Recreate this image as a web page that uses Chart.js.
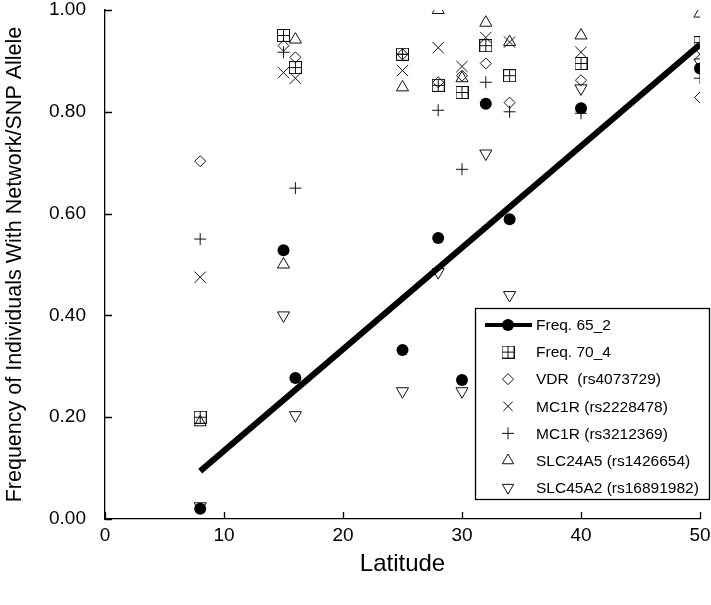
<!DOCTYPE html>
<html>
<head>
<meta charset="utf-8">
<script src="https://cdn.jsdelivr.net/npm/chart.js@4/dist/chart.umd.min.js"></script>
<style>
  html, body { margin: 0; padding: 0; background: #fff; }
  #wrap { width: 711px; height: 605px; }
</style>
</head>
<body>
<div id="wrap"><canvas id="c" width="711" height="605"></canvas></div>
<script>
// ---- data ----
const latitudes   = [8, 15, 16, 25, 28, 30, 32, 34, 40, 50];
const freq65_2    = [0.020, 0.528, 0.277, 0.332, 0.552, 0.273, 0.816, 0.589, 0.807, 0.885];
const freq70_4    = [0.200, 0.950, 0.887, 0.913, 0.852, 0.838, 0.930, 0.871, 0.895, 0.936];
const vdr         = [0.703, 0.930, 0.907, 0.913, 0.858, 0.871, 0.895, 0.818, 0.862, 0.828];
const mc1r2228478 = [0.475, 0.877, 0.866, 0.881, 0.926, 0.889, 0.946, 0.937, 0.917, 0.913];
const mc1r3212369 = [0.550, 0.917, 0.650, 0.913, 0.803, 0.687, 0.858, 0.800, 0.797, 0.866];
const slc24a5     = [0.190, 0.500, 0.942, 0.848, 1.000, 0.866, 0.975, 0.937, 0.950, 0.993];
const slc45a2     = [0.025, 0.400, 0.204, 0.251, 0.485, 0.251, 0.718, 0.440, 0.846, 0.897];
const trendLatitudes = [8, 50];
const trendValues    = [0.094, 0.932];
const xTickValues = [0, 10, 20, 30, 40, 50];
const yTickValues = [0, 0.2, 0.4, 0.6, 0.8, 1.0];
const seriesLabels = ['Freq. 65_2', 'Freq. 70_4', 'VDR  (rs4073729)', 'MC1R (rs2228478)',
                      'MC1R (rs3212369)', 'SLC24A5 (rs1426654)', 'SLC45A2 (rs16891982)'];
const xTitle = 'Latitude';
const yTitle = 'Frequency of Individuals With Network/SNP Allele';

// ---- helpers ----
const FONT = '"Liberation Sans", Arial, Helvetica, sans-serif';
const INK = '#111';
function pts(xs, ys) { return xs.map((x, i) => ({ x: x, y: ys[i] })); }

// square with a cross (⊞) marker
const boxCross = document.createElement('canvas');
boxCross.width = 13; boxCross.height = 13;
(function () {
  const g = boxCross.getContext('2d');
  g.strokeStyle = INK; g.lineWidth = 1;
  g.strokeRect(0.5, 0.5, 12, 12);
  g.beginPath();
  g.moveTo(6.5, 0.5); g.lineTo(6.5, 12.5);
  g.moveTo(0.5, 6.5); g.lineTo(12.5, 6.5);
  g.stroke();
})();

function hollow(label, values, style, radius, rotation) {
  return {
    type: 'scatter', label: label, data: pts(latitudes, values),
    pointStyle: style, pointRadius: radius, pointHoverRadius: radius,
    rotation: rotation || 0, borderWidth: 1,
    borderColor: INK, backgroundColor: 'rgba(0,0,0,0)', order: 2
  };
}

const datasets = [
  {
    type: 'line', label: 'trend', data: pts(trendLatitudes, trendValues),
    borderColor: '#000', borderWidth: 6, pointRadius: 0, showLine: true,
    fill: false, order: 1, borderCapStyle: 'butt'
  },
  {
    type: 'scatter', label: seriesLabels[0], data: pts(latitudes, freq65_2),
    pointStyle: 'circle', pointRadius: 6, pointHoverRadius: 6,
    backgroundColor: '#000', borderColor: '#000', borderWidth: 0, order: 0
  },
  hollow(seriesLabels[1], freq70_4, boxCross, 6),
  hollow(seriesLabels[2], vdr, 'rectRot', 5.5),
  hollow(seriesLabels[3], mc1r2228478, 'crossRot', 8),
  hollow(seriesLabels[4], mc1r3212369, 'cross', 6),
  hollow(seriesLabels[5], slc24a5, 'triangle', 7),
  hollow(seriesLabels[6], slc45a2, 'triangle', 7, 180)
];

// inward tick marks on both axes
const innerTicks = {
  id: 'innerTicks',
  afterDraw(chart) {
    const ctx = chart.ctx, xs = chart.scales.x, ys = chart.scales.y, a = chart.chartArea;
    ctx.save();
    ctx.strokeStyle = '#000'; ctx.lineWidth = 1.3;
    ctx.beginPath();
    xs.ticks.forEach(t => {
      const px = Math.round(xs.getPixelForValue(t.value)) + 0.5;
      ctx.moveTo(px, a.bottom); ctx.lineTo(px, a.bottom - 7);
    });
    ys.ticks.forEach(t => {
      const py = Math.round(ys.getPixelForValue(t.value)) + 0.5;
      ctx.moveTo(a.left, py); ctx.lineTo(a.left + 7, py);
    });
    ctx.stroke();
    ctx.restore();
  }
};

// boxed legend inside the plot
const boxLegend = {
  id: 'boxLegend',
  afterDraw(chart) {
    const ctx = chart.ctx;
    const bx = 475.5, by = 308.5, bw = 234, bh = 191;
    ctx.save();
    ctx.fillStyle = '#fff';
    ctx.fillRect(bx, by, bw, bh);
    ctx.strokeStyle = '#000'; ctx.lineWidth = 1.3;
    ctx.strokeRect(bx, by, bw, bh);
    const mx = 508, tx = 536, y0 = 325, dy = 27.1;
    ctx.font = '15.5px ' + FONT;
    ctx.textBaseline = 'middle';
    ctx.textAlign = 'left';
    for (let i = 0; i < 7; i++) {
      const y = y0 + i * dy;
      const ds = chart.data.datasets[i + 1];
      if (i === 0) {
        ctx.strokeStyle = '#000'; ctx.lineWidth = 4;
        ctx.beginPath(); ctx.moveTo(485, y); ctx.lineTo(532, y); ctx.stroke();
      }
      ctx.fillStyle = ds.backgroundColor;
      ctx.strokeStyle = ds.borderColor;
      ctx.lineWidth = ds.borderWidth;
      const opts = { pointStyle: ds.pointStyle, rotation: ds.rotation || 0,
                     radius: i === 0 ? 6 : Math.min(ds.pointRadius, 6.5), borderWidth: ds.borderWidth };
      if (Chart.helpers && Chart.helpers.drawPoint) {
        Chart.helpers.drawPoint(ctx, opts, mx, y);
      }
      ctx.fillStyle = '#000';
      ctx.fillText(ds.label, tx, y + 1);
    }
    ctx.restore();
  }
};

function noPad(s) { s.paddingTop = 0; s.paddingBottom = 0; s.paddingLeft = 0; s.paddingRight = 0; }

new Chart(document.getElementById('c'), {
  type: 'scatter',
  data: { datasets: datasets },
  options: {
    responsive: false,
    animation: false,
    events: [],
    layout: { padding: { top: 10, right: 11, left: 0, bottom: 0 } },
    plugins: { legend: { display: false }, tooltip: { enabled: false } },
    scales: {
      x: {
        type: 'linear', min: 0, max: 50,
        afterBuildTicks(s) { s.ticks = xTickValues.map(v => ({ value: v })); },
        afterFit(s) { s.height = 86; noPad(s); },
        grid: { display: false, drawTicks: false },
        border: { display: true, color: '#000', width: 1.3 },
        ticks: { color: '#000', padding: 5, font: { family: FONT, size: 19 },
                 maxRotation: 0, callback: v => String(v) },
        title: { display: true, text: xTitle, color: '#000',
                 font: { family: FONT, size: 24 }, padding: { top: 0, bottom: 26 } }
      },
      y: {
        type: 'linear', min: 0, max: 1,
        afterBuildTicks(s) { s.ticks = yTickValues.map(v => ({ value: v })); },
        afterFit(s) { s.width = 105; noPad(s); },
        grid: { display: false, drawTicks: false },
        border: { display: true, color: '#000', width: 1.3 },
        ticks: { color: '#000', padding: 19, font: { family: FONT, size: 19 },
                 callback: v => Number(v).toFixed(2) },
        title: { display: true, text: yTitle, color: '#000',
                 font: { family: FONT, size: 21.5 }, padding: { top: 2, bottom: 0 } }
      }
    }
  },
  plugins: [innerTicks, boxLegend]
});
</script>
</body>
</html>
